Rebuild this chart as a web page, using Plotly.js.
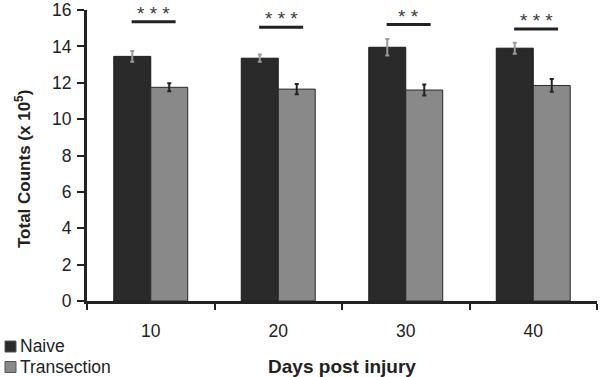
<!DOCTYPE html>
<html>
<head>
<meta charset="utf-8">
<script src="https://cdn.plot.ly/plotly-3.0.1.min.js"></script>
<style>html,body{margin:0;padding:0;background:#fff}#chart{width:600px;height:377px}</style>
</head>
<body>
<div id="chart"></div>
<script>
const days = ['10', '20', '30', '40'];
const seriesNames = ['Naive', 'Transection'];
const naive = [13.45, 13.35, 13.95, 13.9];
const naiveErr = [0.3, 0.2, 0.45, 0.3];
const transection = [11.75, 11.65, 11.6, 11.85];
const transectionErr = [0.22, 0.28, 0.3, 0.35];
const sigLabels = ['* * *', '* * *', '* *', '* * *'];
const sigHeights = [15.35, 15.05, 15.2, 14.95];
const yTicks = [0, 2, 4, 6, 8, 10, 12, 14, 16];
const xTitle = 'Days post injury';
const yTitle = 'Total Counts (x 10<sup>5</sup>)';

const FONT = 'Liberation Sans, Arial, sans-serif';
const colors = ['#2a2a2a', '#898989'];

const traces = [
  {
    type: 'bar', name: seriesNames[0], x: days, y: naive,
    marker: {color: colors[0], line: {color: '#1a1a1a', width: 1}},
    error_y: {type: 'data', array: naiveErr, visible: true, color: '#9a9a9a', thickness: 2, width: 2},
    showlegend: false
  },
  {
    type: 'bar', name: seriesNames[1], x: days, y: transection,
    marker: {color: colors[1], line: {color: '#2a2a2a', width: 1}},
    error_y: {type: 'data', array: transectionErr, visible: true, color: '#222', thickness: 2, width: 2},
    showlegend: false
  }
];

const PL = 87, PW = 510, PB = 301, PH = 291;
const px = v => (v - PL) / PW;
const py = v => (PB - v) / PH;

const shapes = [];
const annotations = [];
days.forEach((d, i) => {
  shapes.push({type: 'line', xref: 'x', yref: 'y', x0: i - 0.15, x1: i + 0.195,
    y0: sigHeights[i], y1: sigHeights[i], line: {color: '#222', width: 3}});
  annotations.push({xref: 'x', yref: 'y', x: i + 0.025, y: sigHeights[i], text: sigLabels[i],
    showarrow: false, yanchor: 'bottom', yshift: -4, font: {family: FONT, size: 19, color: '#3a3a3a'}});
});

// manual legend (bottom-left)
seriesNames.forEach((n, i) => {
  const yc = 346.5 + i * 20.5;
  shapes.push({type: 'rect', xref: 'paper', yref: 'paper',
    x0: px(5), x1: px(16), y0: py(yc + 5.5), y1: py(yc - 5.5),
    fillcolor: colors[i], line: {color: '#555', width: 1}});
  annotations.push({xref: 'paper', yref: 'paper', x: px(19), y: py(yc),
    xanchor: 'left', yanchor: 'middle', text: n, showarrow: false,
    borderpad: 0,
    font: {family: FONT, size: 17.5, color: '#222'}});
});

// y axis title placed as annotation
annotations.push({xref: 'paper', yref: 'paper', x: px(23), y: py(169), text: '<b>' + yTitle + '</b>',
  textangle: -90, showarrow: false, xanchor: 'center', yanchor: 'middle',
  font: {family: FONT, size: 17, color: '#222'}});

const layout = {
  width: 600, height: 377,
  margin: {l: PL, r: 3, t: 10, b: 76},
  paper_bgcolor: '#fff', plot_bgcolor: '#fff',
  barmode: 'group', bargap: 0.42, bargroupgap: 0,
  font: {family: FONT, color: '#222'},
  showlegend: false,
  xaxis: {
    type: 'category', categoryorder: 'array', categoryarray: days,
    showline: true, linewidth: 3, linecolor: '#222',
    ticks: 'outside', tickson: 'boundaries', ticklen: 6, tickwidth: 2, tickcolor: '#222',
    tickfont: {family: FONT, size: 17.5, color: '#222'},
    ticklabelstandoff: 12,
    showgrid: false, zeroline: false,
    title: {text: '<b>' + xTitle + '</b>', font: {family: FONT, size: 19, color: '#222'}, standoff: 20}
  },
  yaxis: {
    range: [0, 16], tickvals: yTicks,
    showline: true, linewidth: 3, linecolor: '#222',
    ticks: 'outside', ticklen: 7, tickwidth: 2, tickcolor: '#222',
    tickfont: {family: FONT, size: 17.5, color: '#222'},
    ticklabelstandoff: 2,
    showgrid: false, zeroline: false
  },
  shapes: shapes,
  annotations: annotations
};

Plotly.newPlot('chart', traces, layout, {displayModeBar: false, staticPlot: true});
</script>
</body>
</html>
